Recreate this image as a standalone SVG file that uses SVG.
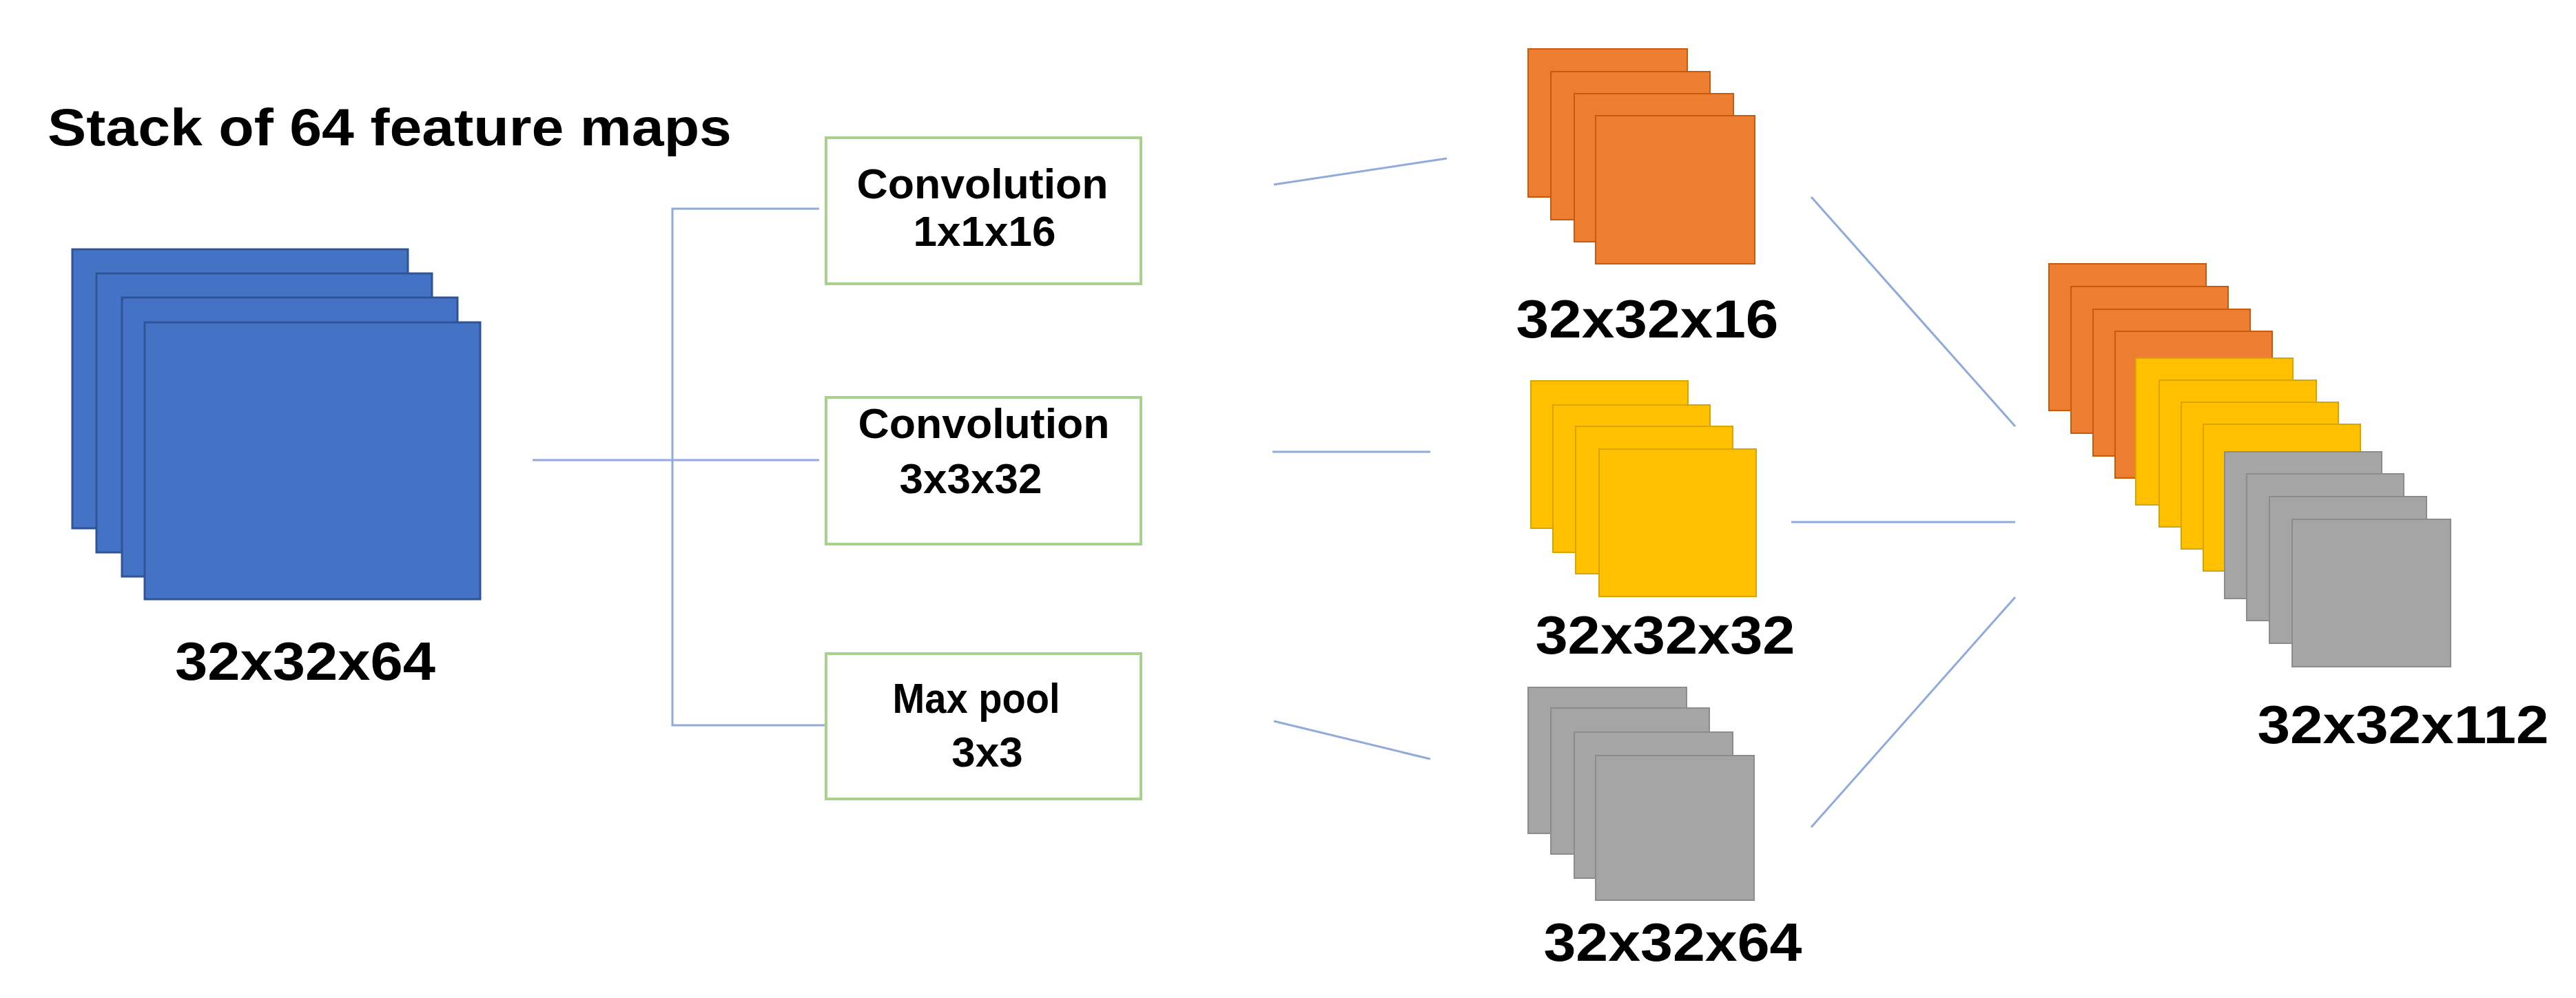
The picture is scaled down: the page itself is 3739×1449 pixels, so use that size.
<svg xmlns="http://www.w3.org/2000/svg" width="3739" height="1449" viewBox="0 0 3739 1449">
<style>
text{font-family:"Liberation Sans",Arial,sans-serif;font-weight:bold;fill:#000;text-anchor:middle}
.b{fill:#4472C4;stroke:#2F5597;stroke-width:3}
.o{fill:#ED7D31;stroke:#C55A11;stroke-width:2}
.y{fill:#FFC000;stroke:#D9A300;stroke-width:2}
.g{fill:#A5A5A5;stroke:#8C8C8C;stroke-width:2}
.box{fill:#fff;stroke:#A9D18E;stroke-width:4}
.c line,.c polyline{stroke:#8FAADC;stroke-width:3;fill:none}
.lbl{font-size:78px}
.bt{font-size:62px}
</style>
<rect width="3739" height="1449" fill="#fff"/>
<text x="69" y="211" font-size="76" style="text-anchor:start" textLength="993" lengthAdjust="spacingAndGlyphs">Stack of 64 feature maps</text>
<g id="input">
<rect class="b" x="105" y="362" width="487" height="405"/>
<rect class="b" x="140" y="397" width="487" height="405"/>
<rect class="b" x="177" y="432" width="487" height="405"/>
<rect class="b" x="210" y="468" width="487" height="402"/>
<text class="lbl" x="443" y="987" textLength="378" lengthAdjust="spacingAndGlyphs">32x32x64</text>
</g>
<g class="c" id="connectors">
<line x1="773" y1="668" x2="1189" y2="668"/>
<polyline points="1189,303 976,303 976,1053 1199,1053"/>
<line x1="1849" y1="268" x2="2100" y2="230"/>
<line x1="1847" y1="656" x2="2076" y2="656"/>
<line x1="1849" y1="1047" x2="2076" y2="1102"/>
<line x1="2629" y1="286" x2="2925" y2="619"/>
<line x1="2600" y1="758" x2="2925" y2="758"/>
<line x1="2629" y1="1201" x2="2925" y2="867"/>
</g>
<g id="conv1">
<rect class="box" x="1199" y="200" width="457" height="212"/>
<text class="bt" x="1426" y="288" textLength="365" lengthAdjust="spacingAndGlyphs">Convolution</text>
<text class="bt" x="1429" y="357">1x1x16</text>
</g>
<g id="conv3">
<rect class="box" x="1199" y="577" width="457" height="213"/>
<text class="bt" x="1428" y="636" textLength="365" lengthAdjust="spacingAndGlyphs">Convolution</text>
<text class="bt" x="1409" y="716">3x3x32</text>
</g>
<g id="pool">
<rect class="box" x="1199" y="949" width="457" height="211"/>
<text class="bt" x="1417" y="1035" textLength="243" lengthAdjust="spacingAndGlyphs">Max pool</text>
<text class="bt" x="1433" y="1113">3x3</text>
</g>
<g id="out16">
<rect class="o" x="2218" y="71" width="231" height="215"/>
<rect class="o" x="2251" y="104" width="231" height="215"/>
<rect class="o" x="2285" y="136" width="231" height="215"/>
<rect class="o" x="2316" y="168" width="231" height="215"/>
<text class="lbl" x="2391" y="490" textLength="381" lengthAdjust="spacingAndGlyphs">32x32x16</text>
</g>
<g id="out32">
<rect class="y" x="2222" y="553" width="228" height="214"/>
<rect class="y" x="2254" y="588" width="228" height="214"/>
<rect class="y" x="2287" y="619" width="228" height="214"/>
<rect class="y" x="2321" y="652" width="228" height="214"/>
<text class="lbl" x="2417" y="949" textLength="377" lengthAdjust="spacingAndGlyphs">32x32x32</text>
</g>
<g id="out64">
<rect class="g" x="2218" y="998" width="230" height="212"/>
<rect class="g" x="2251" y="1028" width="230" height="212"/>
<rect class="g" x="2285" y="1063" width="230" height="212"/>
<rect class="g" x="2316" y="1097" width="230" height="210"/>
<text class="lbl" x="2428" y="1395" textLength="375" lengthAdjust="spacingAndGlyphs">32x32x64</text>
</g>
<g id="concat">
<rect class="o" x="2974" y="383" width="228" height="213"/>
<rect class="o" x="3006" y="416" width="228" height="213"/>
<rect class="o" x="3038" y="449" width="228" height="213"/>
<rect class="o" x="3070" y="481" width="228" height="213"/>
<rect class="y" x="3100" y="520" width="228" height="213"/>
<rect class="y" x="3134" y="552" width="228" height="213"/>
<rect class="y" x="3166" y="584" width="228" height="213"/>
<rect class="y" x="3198" y="616" width="228" height="213"/>
<rect class="g" x="3229" y="656" width="228" height="213"/>
<rect class="g" x="3261" y="688" width="228" height="213"/>
<rect class="g" x="3294" y="721" width="228" height="213"/>
<rect class="g" x="3327" y="754" width="230" height="214"/>
<text class="lbl" x="3488" y="1079" textLength="423" lengthAdjust="spacingAndGlyphs">32x32x112</text>
</g>
</svg>
